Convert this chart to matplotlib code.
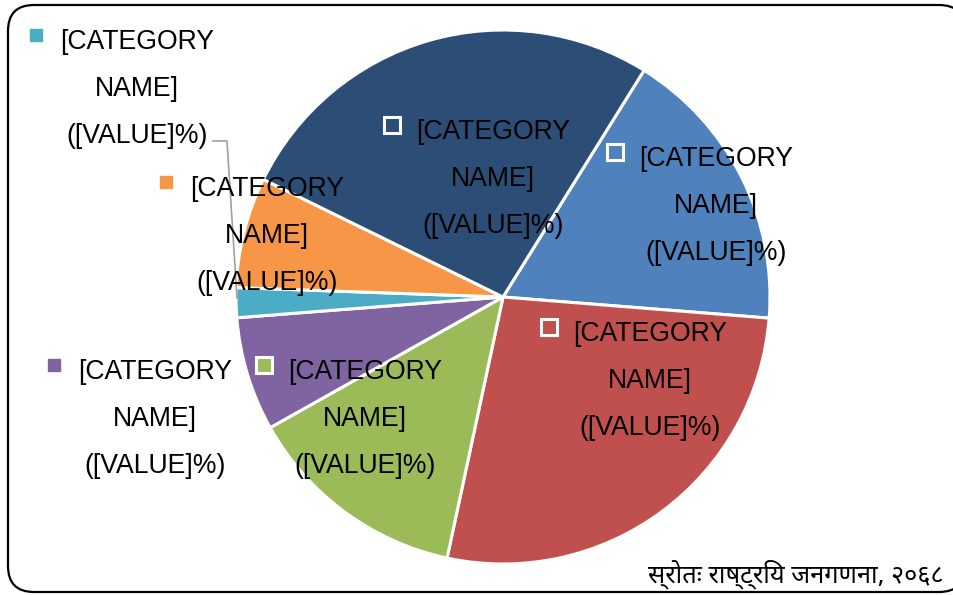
import matplotlib.pyplot as plt
from matplotlib.patches import FancyBboxPatch

# slice shares (%), clockwise from the blue slice
values = [17.4, 27.1, 13.5, 6.9, 1.8, 6.7, 26.6]
colors = ['#4F81BD', '#C0504D', '#9BBB59', '#8064A2', '#4BACC6', '#F79646', '#2C4D75']
label_text = '[CATEGORY\nNAME]\n([VALUE]%)'
# which labels sit outside the pie (filled key) vs inside (hollow key)
outside = [False, False, False, True, True, True, False]

W, H = 954, 595
fig = plt.figure(figsize=(W / 100, H / 100), dpi=100)
ax = fig.add_axes([0, 0, 1, 1])

# frame
frame = FancyBboxPatch((8, 3), 957, 587, boxstyle='round,pad=0,rounding_size=26',
                       fc='white', ec='black', lw=1.6, transform=ax.transData, zorder=0)
ax.add_patch(frame)

ax.pie(values, colors=colors, startangle=58.1, counterclock=False,
       center=(503, H - 297), radius=267,
       wedgeprops=dict(edgecolor='white', linewidth=2.2), frame=True)
ax.set_xlim(0, W)
ax.set_ylim(0, H)
ax.set_aspect('equal')
ax.axis('off')

# label layout (pixel positions of the text block centre, top-down y)
label_pos = [(716, 206), (650, 381), (365, 419), (155, 419), (137, 89), (267, 236), (493, 179)]
for v, c, out, (lx, ly) in zip(values, colors, outside, label_pos):
    ax.text(lx, H - ly, label_text, ha='center', va='center', fontsize=19.2,
            family='Liberation Sans', linespacing=2.05, zorder=5)
    mx, my = lx - 101, H - ly + 54
    if out:
        ax.plot(mx, my, 's', ms=8.5, mfc=c, mec=c, zorder=6)
    else:
        ax.plot(mx, my, 's', ms=11, mfc=c, mec='white', mew=2.2, zorder=6)

# leader line for the small teal slice
ax.plot([213, 227, 237], [H - 141, H - 141, H - 298], color='#a0a0a0', lw=1.2, zorder=4)

ax.text(648, H - 582, 'स्रोतः राष्ट्रिय जनगणना, २०६८', fontsize=18.3, style='italic',
        family=['Noto Sans Devanagari', 'Lohit Devanagari', 'Noto Sans', 'DejaVu Sans'],
        ha='left', va='baseline', zorder=5)

fig.savefig('out.png', dpi=100)
